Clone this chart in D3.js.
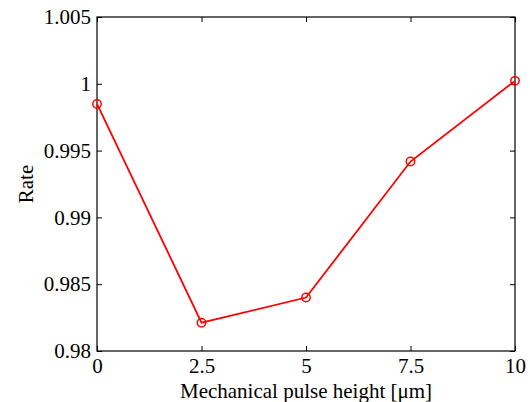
<!DOCTYPE html>
<meta charset="utf-8">
<style>
body { margin: 0; background: #fff; }
</style>
<body>
<script src="https://d3js.org/d3.v7.min.js"></script>
<script>
var heights = [0, 2.5, 5, 7.5, 10];
var rates = [0.99849, 0.98212, 0.98400, 0.99418, 1.00022];
var xTicks = [0, 2.5, 5, 7.5, 10];
var yTicks = [0.98, 0.985, 0.99, 0.995, 1, 1.005];

var serif = "'Liberation Serif', 'Times New Roman', Times";

var margin = {top: 17, right: 15, bottom: 51, left: 97},
    width = 530 - margin.left - margin.right,
    height = 402 - margin.top - margin.bottom;

var x = d3.scaleLinear().domain([0, 10]).range([0, width]);
var y = d3.scaleLinear().domain([0.98, 1.005]).range([height, 0]);

var svg = d3.select("body").append("svg")
    .attr("width", 530)
    .attr("height", 402)
  .append("g")
    .attr("transform", "translate(" + margin.left + "," + margin.top + ")");

function fmt(d) { return String(d); }

function style(g) {
  g.select(".domain").remove();
  g.selectAll("line").attr("stroke", "#000").attr("stroke-width", 1);
  g.selectAll("text")
      .attr("fill", "#000")
      .style("font-family", serif)
      .style("font-size", "21px");
}

svg.append("g")
    .attr("transform", "translate(0," + height + ")")
    .call(d3.axisBottom(x).tickValues(xTicks).tickFormat(fmt).tickSizeInner(-5).tickPadding(7))
    .call(style);
svg.append("g")
    .call(d3.axisTop(x).tickValues(xTicks).tickFormat("").tickSizeInner(-5))
    .call(style);
svg.append("g")
    .call(d3.axisLeft(y).tickValues(yTicks).tickFormat(fmt).tickSizeInner(-5).tickPadding(6))
    .call(style);
svg.append("g")
    .attr("transform", "translate(" + width + ",0)")
    .call(d3.axisRight(y).tickValues(yTicks).tickFormat("").tickSizeInner(-5))
    .call(style);

svg.append("rect")
    .attr("width", width)
    .attr("height", height)
    .attr("fill", "none")
    .attr("stroke", "#000")
    .attr("stroke-width", 1.2);

var pts = heights.map(function(h, i) { return [h, rates[i]]; });

svg.append("path")
    .datum(pts)
    .attr("fill", "none")
    .attr("stroke", "#ff0000")
    .attr("stroke-width", 1.8)
    .attr("d", d3.line().x(function(d) { return x(d[0]); }).y(function(d) { return y(d[1]); }));

svg.selectAll(".dot")
    .data(pts)
  .enter().append("circle")
    .attr("class", "dot")
    .attr("r", 4.2)
    .attr("fill", "none")
    .attr("stroke", "#ff0000")
    .attr("stroke-width", 1.5)
    .attr("cx", function(d) { return x(d[0]); })
    .attr("cy", function(d) { return y(d[1]); });

svg.append("text")
    .attr("x", width / 2)
    .attr("y", height + 47)
    .attr("text-anchor", "middle")
    .style("font-family", serif)
    .style("font-size", "21px")
    .text("Mechanical pulse height [\u03bcm]");

svg.append("text")
    .attr("transform", "rotate(-90)")
    .attr("x", -height / 2)
    .attr("y", -64)
    .attr("text-anchor", "middle")
    .style("font-family", serif)
    .style("font-size", "21px")
    .text("Rate");
</script>
